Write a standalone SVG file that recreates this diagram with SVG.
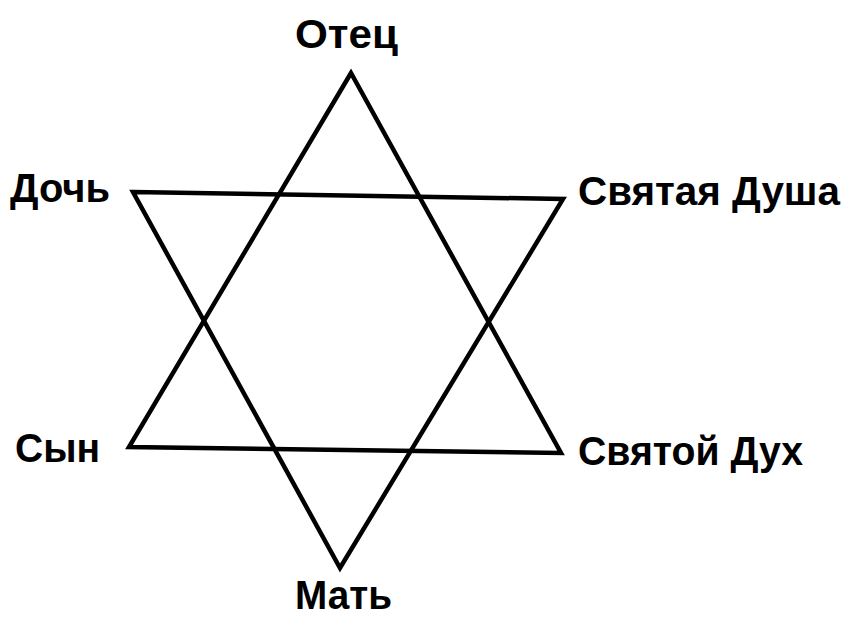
<svg xmlns="http://www.w3.org/2000/svg" width="846" height="618" viewBox="0 0 846 618">
<style>
.lbl{font-family:"Liberation Sans",Arial,sans-serif;font-weight:bold;font-size:40px;fill:#000}
.edge{fill:none;stroke:#000;stroke-width:4.5;stroke-linejoin:miter}
</style>
<rect width="846" height="618" fill="#fff"/>
<g id="connectors">
<polygon class="edge" points="351,73 129,447 561,453"/>
<polygon class="edge" points="133,192 563,199 340,568"/>
</g>
<g id="otec"><text class="lbl" x="295" y="48" textLength="103" lengthAdjust="spacingAndGlyphs">Отец</text></g>
<g id="doch"><text class="lbl" x="10" y="202" textLength="100" lengthAdjust="spacingAndGlyphs">Дочь</text></g>
<g id="svdusha"><text class="lbl" x="578" y="205" textLength="262" lengthAdjust="spacingAndGlyphs">Святая Душа</text></g>
<g id="syn"><text class="lbl" x="15" y="462" textLength="85" lengthAdjust="spacingAndGlyphs">Сын</text></g>
<g id="svdukh"><text class="lbl" x="578" y="465" textLength="225" lengthAdjust="spacingAndGlyphs">Святой Дух</text></g>
<g id="mat"><text class="lbl" x="295" y="609" textLength="97" lengthAdjust="spacingAndGlyphs">Мать</text></g>
</svg>
